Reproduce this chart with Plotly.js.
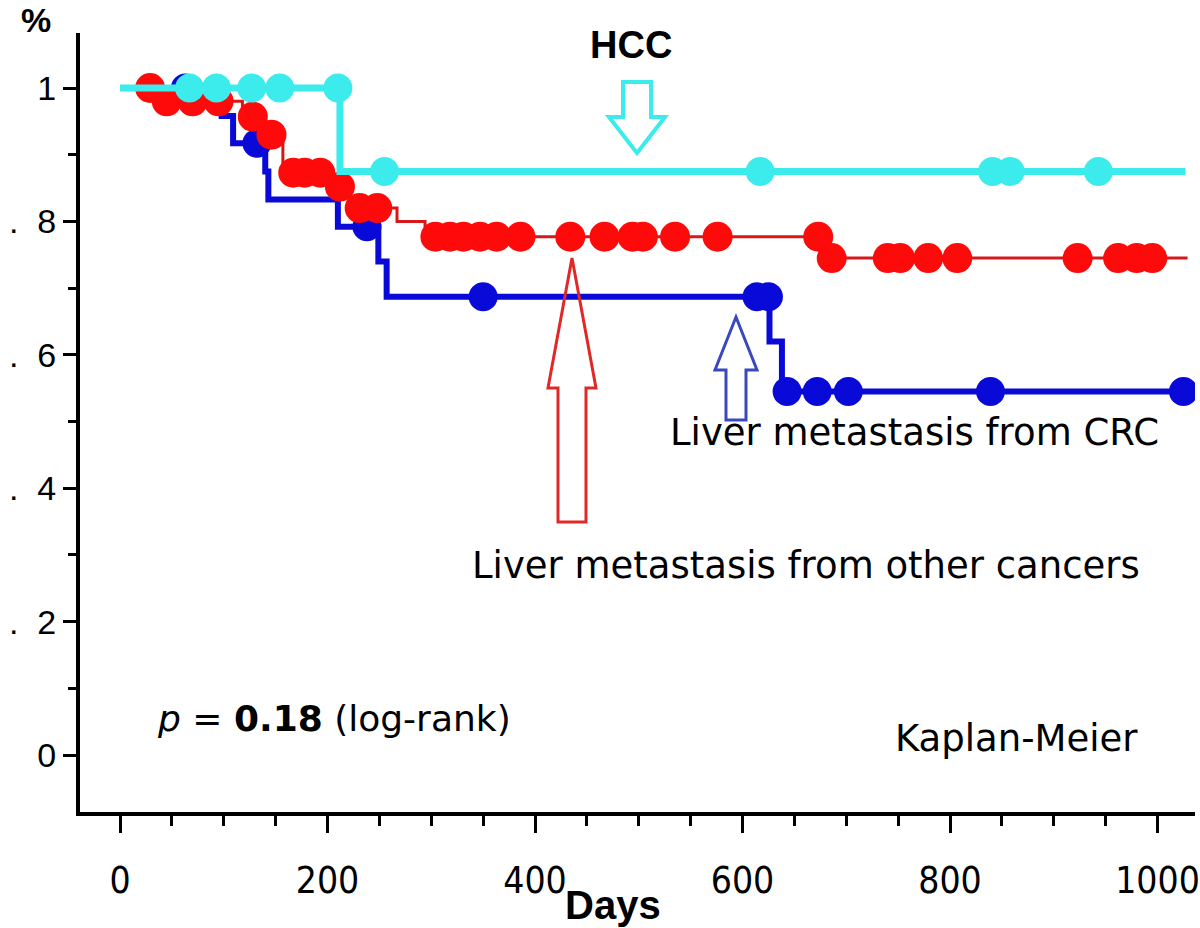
<!DOCTYPE html>
<html>
<head>
<meta charset="utf-8">
<script src="https://cdn.plot.ly/plotly-3.0.1.min.js"></script>
<style>
  body { margin: 0; background: #fff; }
  #plot { width: 1200px; height: 928px; }
</style>
</head>
<body>
<div id="plot"></div>
<script>
// Kaplan-Meier steps (day, survival)
var crcDays  = [0, 98, 109, 140, 143, 210, 249, 257, 626, 638, 1031];
var crcSurv  = [1, 0.958, 0.917, 0.875, 0.833, 0.792, 0.74, 0.687, 0.62, 0.545, 0.545];
var crcCensor = [63, 132, 238, 350, 614, 625, 643, 672, 702, 839, 1025];

var otherDays = [0, 33, 118, 138, 157, 202, 222, 267, 294, 680, 1029];
var otherSurv = [1, 0.98, 0.957, 0.93, 0.873, 0.852, 0.82, 0.80, 0.777, 0.745, 0.745];
var otherCensor = [29, 45, 70, 95, 128, 146, 167, 178, 193, 212, 231, 248,
                   304, 318, 331, 347, 363, 386, 434, 467, 494, 504, 535, 576, 673,
                   686, 740, 752, 779, 807, 923, 962, 980, 995];

var hccDays = [0, 212, 1027];
var hccSurv = [1, 0.875, 0.875];
var hccCensor = [67, 93, 127, 154, 210, 255, 617, 841, 858, 943];

var xTicks = [0, 200, 400, 600, 800, 1000];
var yTicks = [0, 0.2, 0.4, 0.6, 0.8, 1];
var yTickText = ['0', '.  2', '.  4', '.  6', '.  8', '1'];

// survival value of a step curve at a given day
function survAt(days, surv, d) {
    var s = surv[0];
    for (let i = 0; i < days.length; i++) {
        if (days[i] <= d) s = surv[i];
    }
    return s;
}

// page geometry, used to place the arrows and labels
var W = 1200, H = 928;
var M = {l: 80, r: 5, t: 33, b: 116};
var pw = W - M.l - M.r, ph = H - M.t - M.b;
function px(x) { return (x - M.l) / pw; }
function py(y) { return (H - M.b - y) / ph; }

// hollow block arrow, coordinates in page pixels
function arrowPath(cx, tipY, baseY, endY, hw, sw) {
    var pts = [[cx, tipY], [cx + hw, baseY], [cx + sw, baseY], [cx + sw, endY],
               [cx - sw, endY], [cx - sw, baseY], [cx - hw, baseY]];
    return 'M ' + pts.map(p => px(p[0]).toFixed(5) + ',' + py(p[1]).toFixed(5)).join(' L ') + ' Z';
}

var cyan = '#3CEBEB', red = '#FF0A0A', redLine = '#D81818', blue = '#0A0AD8';

function censorTrace(days, surv, cens, color, size) {
    return {
        x: cens,
        y: cens.map(d => survAt(days, surv, d)),
        mode: 'markers',
        type: 'scatter',
        marker: {color: color, size: size},
        hoverinfo: 'x+y'
    };
}

var data = [
    {x: crcDays, y: crcSurv, mode: 'lines', type: 'scatter', line: {shape: 'hv', color: blue, width: 6}},
    censorTrace(crcDays, crcSurv, crcCensor, blue, 29),
    {x: otherDays, y: otherSurv, mode: 'lines', type: 'scatter', line: {shape: 'hv', color: redLine, width: 3}},
    censorTrace(otherDays, otherSurv, otherCensor, red, 30),
    {x: hccDays, y: hccSurv, mode: 'lines', type: 'scatter', line: {shape: 'hv', color: cyan, width: 7}},
    censorTrace(hccDays, hccSurv, hccCensor, cyan, 29)
];

// axis ranges so that day 0 sits at x=120px and 0..1 spans y=755..88px
var dayPx = 1.0375, unitPx = 667;
var xr0 = -(120 - M.l) / dayPx;
var yr0 = -(H - M.b - 755) / unitPx;

var txt = 'DejaVu Sans';

function label(text, x, y, size, family, xanchor) {
    return {text: text, xref: 'paper', yref: 'paper', x: px(x), y: py(y),
            xanchor: xanchor || 'center', yanchor: 'middle', showarrow: false,
            font: {family: family, size: size, color: '#000'}};
}

var layout = {
    width: W, height: H,
    margin: M,
    showlegend: false,
    paper_bgcolor: '#fff',
    plot_bgcolor: '#fff',
    xaxis: {
        range: [xr0, xr0 + pw / dayPx],
        tickvals: xTicks,
        ticks: 'outside', ticklen: 17, tickwidth: 3, tickcolor: '#000',
        minor: {dtick: 50, ticks: 'outside', ticklen: 10, tickwidth: 3, tickcolor: '#000'},
        showline: true, linewidth: 4, linecolor: '#000',
        showgrid: false, zeroline: false,
        ticklabelstandoff: 16,
        tickfont: {family: 'DejaVu Sans Condensed, Liberation Sans Narrow, Liberation Sans', size: 37, color: '#000'}
    },
    yaxis: {
        range: [yr0, yr0 + ph / unitPx],
        tickvals: yTicks, ticktext: yTickText,
        ticks: 'outside', ticklen: 13, tickwidth: 3, tickcolor: '#000',
        minor: {dtick: 0.1, ticks: 'outside', ticklen: 8, tickwidth: 3, tickcolor: '#000'},
        showline: true, linewidth: 4, linecolor: '#000',
        showgrid: false, zeroline: false,
        ticklabelstandoff: 0,
        tickfont: {family: 'Liberation Sans', size: 34, color: '#000'}
    },
    shapes: [
        {type: 'path', xref: 'paper', yref: 'paper', path: arrowPath(637, 153, 117, 82, 28, 14),
         line: {color: cyan, width: 4}, fillcolor: 'rgba(255,255,255,0)'},
        {type: 'path', xref: 'paper', yref: 'paper', path: arrowPath(572, 258, 388, 522, 24, 14),
         line: {color: '#E02828', width: 3}, fillcolor: 'rgba(255,255,255,0)'},
        {type: 'path', xref: 'paper', yref: 'paper', path: arrowPath(736, 317, 370, 420, 21, 10),
         line: {color: '#3A48C0', width: 3}, fillcolor: 'rgba(255,255,255,0)'}
    ],
    annotations: [
        label('<b>%</b>', 36, 20, 34, 'Liberation Sans'),
        label('<b>HCC</b>', 631, 45, 38, 'Liberation Sans'),
        label('Liver metastasis from CRC', 668, 432, 37, txt, 'left'),
        label('Liver metastasis from other cancers', 470, 565, 37, txt, 'left'),
        label('<i>p</i> = <b>0.18</b> (log-rank)', 155, 718, 36, txt, 'left'),
        label('Kaplan-Meier', 893, 738, 37, txt, 'left'),
        label('<b>Days</b>', 613, 905, 40, 'Liberation Sans')
    ]
};

Plotly.newPlot('plot', data, layout, {displayModeBar: false});
</script>
</body>
</html>
